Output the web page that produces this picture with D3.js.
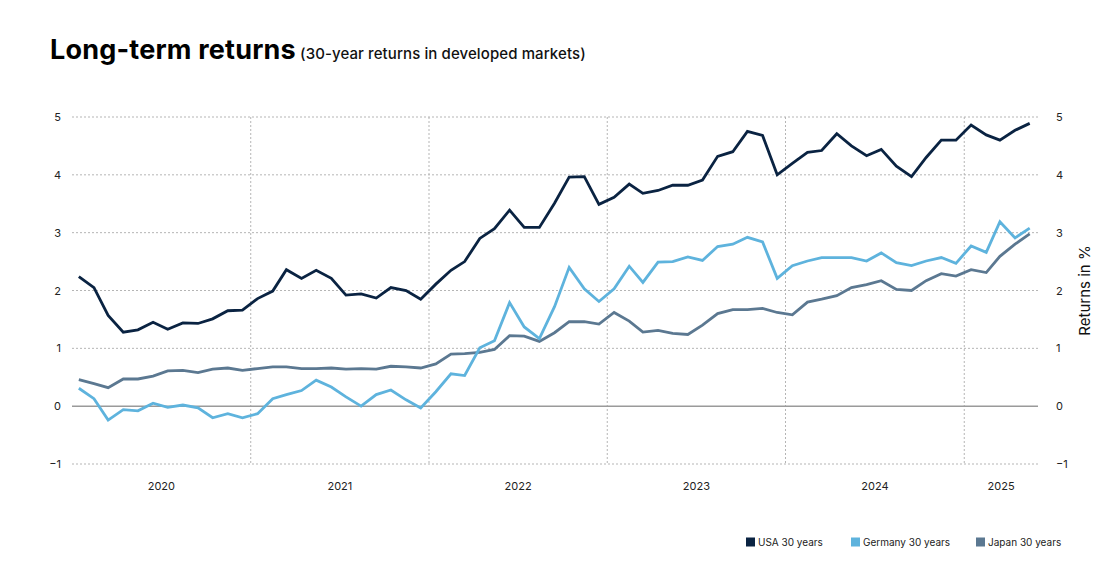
<!DOCTYPE html>
<html>
<head>
<meta charset="utf-8">
<script src="https://cdn.jsdelivr.net/npm/d3@7"></script>
<style>
  body { margin: 0; background: #fff; }
  svg { display: block; font-family: Inter, "Noto Sans", sans-serif; }
</style>
</head>
<body>
<svg id="chart" width="1110" height="585"></svg>
<script>
// ---- Data (monthly, Jan 2020 – May 2025) ----
const startYear = 2020, startMonth = 0;
const usa = [2.24,2.05,1.57,1.28,1.32,1.45,1.33,1.44,1.43,1.51,1.65,1.66,1.86,1.99,2.36,2.21,2.35,2.21,1.92,1.94,1.87,2.05,2.0,1.85,2.11,2.35,2.5,2.9,3.07,3.39,3.09,3.09,3.51,3.96,3.97,3.49,3.61,3.84,3.68,3.73,3.82,3.82,3.91,4.32,4.40,4.75,4.68,4.0,4.2,4.39,4.42,4.71,4.5,4.33,4.44,4.15,3.97,4.3,4.6,4.6,4.86,4.69,4.6,4.77,4.89];
const germany = [0.31,0.13,-0.24,-0.06,-0.08,0.05,-0.02,0.02,-0.03,-0.2,-0.13,-0.2,-0.13,0.13,0.2,0.27,0.45,0.33,0.16,0.0,0.2,0.28,0.11,-0.03,0.25,0.56,0.53,1.01,1.13,1.79,1.37,1.17,1.72,2.40,2.03,1.81,2.03,2.42,2.14,2.49,2.5,2.58,2.52,2.76,2.8,2.92,2.84,2.21,2.43,2.51,2.57,2.57,2.57,2.51,2.65,2.48,2.43,2.51,2.57,2.47,2.77,2.66,3.19,2.91,3.08];
const japan = [0.46,0.39,0.32,0.47,0.47,0.52,0.61,0.62,0.58,0.64,0.66,0.62,0.65,0.68,0.68,0.65,0.65,0.66,0.64,0.65,0.64,0.69,0.68,0.66,0.73,0.9,0.91,0.93,0.98,1.22,1.21,1.12,1.27,1.46,1.46,1.42,1.62,1.47,1.28,1.31,1.26,1.24,1.4,1.6,1.67,1.67,1.69,1.62,1.58,1.8,1.85,1.91,2.05,2.1,2.17,2.02,2.0,2.17,2.29,2.25,2.36,2.31,2.59,2.8,2.98];
const yTicks = [-1,0,1,2,3,4,5];
const yearLabels = ["2020","2021","2022","2023","2024","2025"];
const seriesNames = ["USA 30 years","Germany 30 years","Japan 30 years"];
const seriesColors = ["#0a2342","#5eb3dd","#5b7891"];

const dates = usa.map((_, i) => new Date(startYear, startMonth + i, 15));
const seriesData = [usa, germany, japan];

const svg = d3.select("#chart");
const x = d3.scaleTime().domain([new Date(2020,0,1), new Date(2025,5,1)]).range([72, 1038]);
const y = d3.scaleLinear().domain([-1, 5]).range([464, 117]);

// Title
const title = svg.append("text").attr("x", 50).attr("y", 59);
title.append("tspan").text("Long-term returns").attr("font-size", 27).attr("font-weight", 700).attr("fill", "#000").attr("letter-spacing", "0.2");
title.append("tspan").text(" (30-year returns in developed markets)").attr("font-size", 15).attr("font-weight", 500).attr("fill", "#111").attr("letter-spacing", "0.1");

// Horizontal gridlines
svg.append("g").selectAll("line").data(yTicks.filter(d => d !== 0)).join("line")
  .attr("x1", 72).attr("x2", 1038)
  .attr("y1", d => y(d)).attr("y2", d => y(d))
  .attr("stroke", "#b5b5b5").attr("stroke-width", 1).attr("stroke-dasharray", "2,2");

// Vertical year gridlines
const yearStarts = yearLabels.slice(1).map(s => new Date(+s, 0, 1));
svg.append("g").selectAll("line").data(yearStarts).join("line")
  .attr("x1", d => x(d)).attr("x2", d => x(d))
  .attr("y1", y(5)).attr("y2", y(-1))
  .attr("stroke", "#b5b5b5").attr("stroke-width", 1).attr("stroke-dasharray", "2,2");

// Zero line
svg.append("line").attr("x1", 72).attr("x2", 1038).attr("y1", y(0)).attr("y2", y(0))
  .attr("stroke", "#9a9a9a").attr("stroke-width", 1.5);

// Y axes (labels only)
const yl = svg.append("g").attr("transform", "translate(64,0)")
  .call(d3.axisLeft(y).tickValues(yTicks).tickSize(0).tickPadding(3).tickFormat(d3.format("d")));
const yr = svg.append("g").attr("transform", "translate(1053,0)")
  .call(d3.axisRight(y).tickValues(yTicks).tickSize(0).tickPadding(3).tickFormat(d3.format("d")));
[yl, yr].forEach(g => {
  g.select(".domain").remove();
  g.selectAll("text").attr("font-size", 11).attr("fill", "#222").attr("font-family", "Inter, sans-serif");
});

// Right axis title
svg.append("text").attr("transform", `translate(1090,${y(2)}) rotate(-90)`)
  .attr("text-anchor", "middle").attr("font-size", 15).attr("fill", "#111")
  .text("Returns in %");

// X year labels centered in each year span
const [d0, d1] = x.domain();
svg.append("g").selectAll("text").data(yearLabels).join("text")
  .attr("x", s => {
    const a = Math.max(+d0, +new Date(+s, 0, 1));
    const b = Math.min(+d1, +new Date(+s + 1, 0, 1));
    return (x(a) + x(b)) / 2;
  })
  .attr("y", 490).attr("text-anchor", "middle")
  .attr("font-size", 11).attr("fill", "#222").text(s => s);

// Lines
const line = d3.line().x((d, i) => x(dates[i])).y(d => y(d));
svg.append("g").selectAll("path").data([japan, germany, usa]).join("path")
  .attr("d", d => line(d))
  .attr("fill", "none")
  .attr("stroke", (d) => seriesColors[seriesData.indexOf(d)])
  .attr("stroke-width", 2.8)
  .attr("stroke-linejoin", "miter");

// Legend
const legendX = [746, 851, 976];
const lg = svg.append("g").selectAll("g").data(seriesNames).join("g")
  .attr("transform", (d, i) => `translate(${legendX[i]},542)`);
lg.append("rect").attr("x", 0).attr("y", -4.5).attr("width", 9).attr("height", 9)
  .attr("fill", (d, i) => seriesColors[i]);
lg.append("text").attr("x", 12).attr("y", 3.8).attr("font-size", 10).attr("fill", "#222").text(d => d);
</script>
</body>
</html>
